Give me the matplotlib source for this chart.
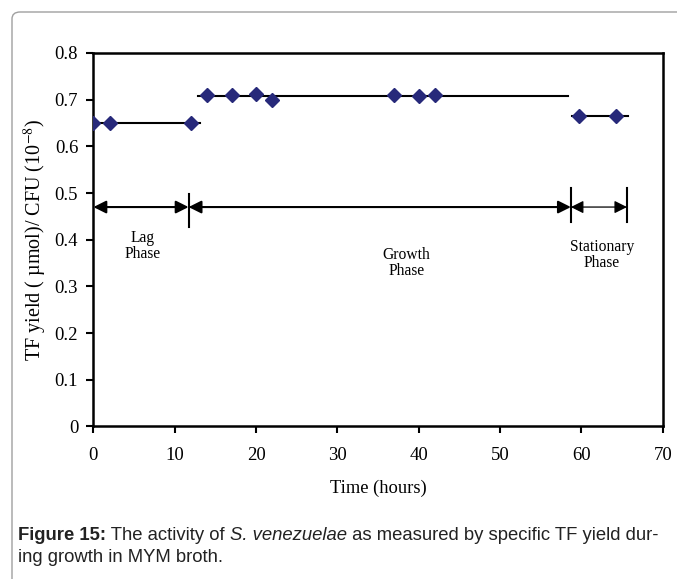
import matplotlib
matplotlib.use('Agg')
import matplotlib.pyplot as plt
from matplotlib.patches import FancyBboxPatch

plt.rcParams['font.family'] = 'Liberation Serif'
plt.rcParams['mathtext.fontset'] = 'stix'

# data
lag_t = [0, 2, 12]
lag_y = [0.65, 0.65, 0.65]
growth_t = [14, 17, 20, 22, 37, 40, 42]
growth_y = [0.71, 0.71, 0.712, 0.70, 0.71, 0.708, 0.71]
stat_t = [59.7, 64.2]
stat_y = [0.664, 0.664]

# horizontal level lines (start, end, level)
lag_line = [0, 13.1, 0.65]
growth_line = [12.9, 58.3, 0.708]
stat_line = [58.8, 65.7, 0.664]

# phase boundaries and labels
bounds = [0, 11.7, 58.7, 65.6]
arrow_y = 0.47
phase_names = ['Lag\nPhase', 'Growth\nPhase', 'Stationary\nPhase']
phase_x = [6.1, 38.5, 62.5]
phase_y = [0.387, 0.35, 0.367]

fig = plt.figure(figsize=(6.77, 5.79), dpi=100)
ax = fig.add_axes([0.138, 0.2634, 0.841, 0.6451])

navy = '#27297A'
ax.plot(lag_line[:2], [lag_line[2]] * 2, color='black', lw=1.5)
ax.plot(growth_line[:2], [growth_line[2]] * 2, color='black', lw=1.5)
ax.plot(stat_line[:2], [stat_line[2]] * 2, color='black', lw=1.5)
for t, y in [(lag_t, lag_y), (growth_t, growth_y), (stat_t, stat_y)]:
    ax.plot(t, y, linestyle='none', marker='D', markersize=7, color=navy, zorder=3)

# phase arrows
for i in range(3):
    lw = 0.9 if i == 2 else 1.5
    ax.annotate('', xy=(bounds[i + 1], arrow_y), xytext=(bounds[i], arrow_y),
                arrowprops=dict(arrowstyle='<|-|>', color='black', lw=lw,
                                mutation_scale=19, shrinkA=0, shrinkB=0))
ax.plot([bounds[1]] * 2, [0.427, 0.497], color='black', lw=1.5)
ax.plot([bounds[2]] * 2, [0.438, 0.51], color='black', lw=1.5)
ax.plot([bounds[3]] * 2, [0.438, 0.51], color='black', lw=1.5)

for name, x, y in zip(phase_names, phase_x, phase_y):
    ax.text(x, y, name, ha='center', va='center', fontsize=11.2, linespacing=1.05)

ax.set_xlim(0, 70)
ax.set_ylim(0, 0.8)
ax.set_xticks(range(0, 71, 10))
ax.set_yticks([0, 0.1, 0.2, 0.3, 0.4, 0.5, 0.6, 0.7, 0.8])
ax.set_yticklabels(['0', '0.1', '0.2', '0.3', '0.4', '0.5', '0.6', '0.7', '0.8'])
ax.tick_params(direction='out', length=5, width=1.5, labelsize=13.5, pad=6)
ax.tick_params(axis='x', pad=10)
for s in ax.spines.values():
    s.set_linewidth(1.8)
ax.set_xlabel('Time (hours)', fontsize=13.3, labelpad=11)
ax.set_ylabel('TF yield ( µmol)/ CFU (10$^{-8}$)', fontsize=14.5, labelpad=4)

# outer frame
box = FancyBboxPatch((12 / 677, -0.05), 1.1, 1.05 - 12 / 579,
                     boxstyle='round,pad=0,rounding_size=0.012',
                     transform=fig.transFigure, facecolor='none',
                     edgecolor='#A0A0A0', lw=1.0, zorder=-1)
fig.patches.append(box)

# caption, built piece by piece
fig.canvas.draw()
r = fig.canvas.get_renderer()
pieces = [('Figure 15:', 'bold', 'normal'), (' The activity of ', 'normal', 'normal'),
          ('S. venezuelae', 'normal', 'italic'),
          (' as measured by specific TF yield dur-', 'normal', 'normal')]
x = 18
y1 = 1 - 536 / 579
for txt, w, st in pieces:
    t = fig.text(x / 677, y1, txt, fontsize=13.35, family='Liberation Sans',
                 weight=w, style=st, va='center', color='#222222')
    x += t.get_window_extent(r).width
fig.text(18 / 677, 1 - 558 / 579, 'ing growth in MYM broth.', fontsize=13.35,
         family='Liberation Sans', va='center', color='#222222')

fig.savefig('out.png', dpi=100)
